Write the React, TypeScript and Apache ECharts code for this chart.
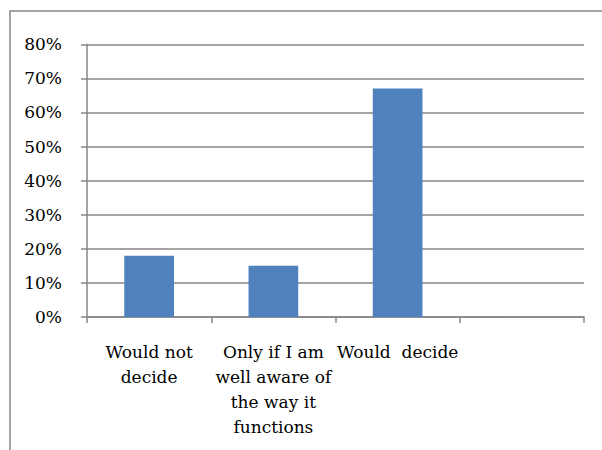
import React, { useEffect, useRef } from "react";
import * as echarts from "echarts";

const categories = [
  "Would not\ndecide",
  "Only if I am\nwell aware of\nthe way it\nfunctions",
  "Would  decide",
  "",
];
const values = [18, 15, 67, null];
const yTicks = { min: 0, max: 80, interval: 10 };

const FONT = "DejaVu Serif";
const GRAY = "#868686";

export default function App() {
  const ref = useRef<HTMLDivElement>(null);
  useEffect(() => {
    if (!ref.current) return;
    const chart = echarts.init(ref.current, null, { renderer: "svg" });
    chart.setOption({
      animation: false,
      backgroundColor: "#ffffff",
      graphic: [
        {
          type: "rect",
          shape: { x: 10, y: 11, width: 620, height: 470 },
          style: { fill: "none", stroke: GRAY, lineWidth: 1.5 },
          silent: true,
        },
      ],
      grid: { left: 87, right: 18, top: 44.3, bottom: 133, containLabel: false },
      xAxis: {
        type: "category",
        data: categories,
        boundaryGap: true,
        axisLine: { show: true, lineStyle: { color: GRAY, width: 1.5 } },
        axisTick: { show: true, length: 6, alignWithLabel: false, lineStyle: { color: GRAY, width: 1.5 } },
        axisLabel: {
          interval: 0,
          margin: 22,
          color: "#000",
          fontFamily: FONT,
          fontSize: 17,
          lineHeight: 25,
        },
      },
      yAxis: {
        type: "value",
        min: yTicks.min,
        max: yTicks.max,
        interval: yTicks.interval,
        axisLine: { show: true, lineStyle: { color: GRAY, width: 1.5 } },
        axisTick: { show: true, length: 6, lineStyle: { color: GRAY, width: 1.5 } },
        splitLine: { show: true, lineStyle: { color: GRAY, width: 1.5 } },
        axisLabel: {
          formatter: "{value}%",
          margin: 25,
          color: "#000",
          fontFamily: FONT,
          fontSize: 17,
        },
      },
      series: [
        {
          type: "bar",
          data: values,
          barWidth: "40%",
          itemStyle: { color: "#4F81BD" },
        },
      ],
    });
    return () => chart.dispose();
  }, []);
  return (
    <div
      ref={ref}
      style={{ position: "fixed", left: 0, top: 0, width: 602, height: 450 }}
    />
  );
}
